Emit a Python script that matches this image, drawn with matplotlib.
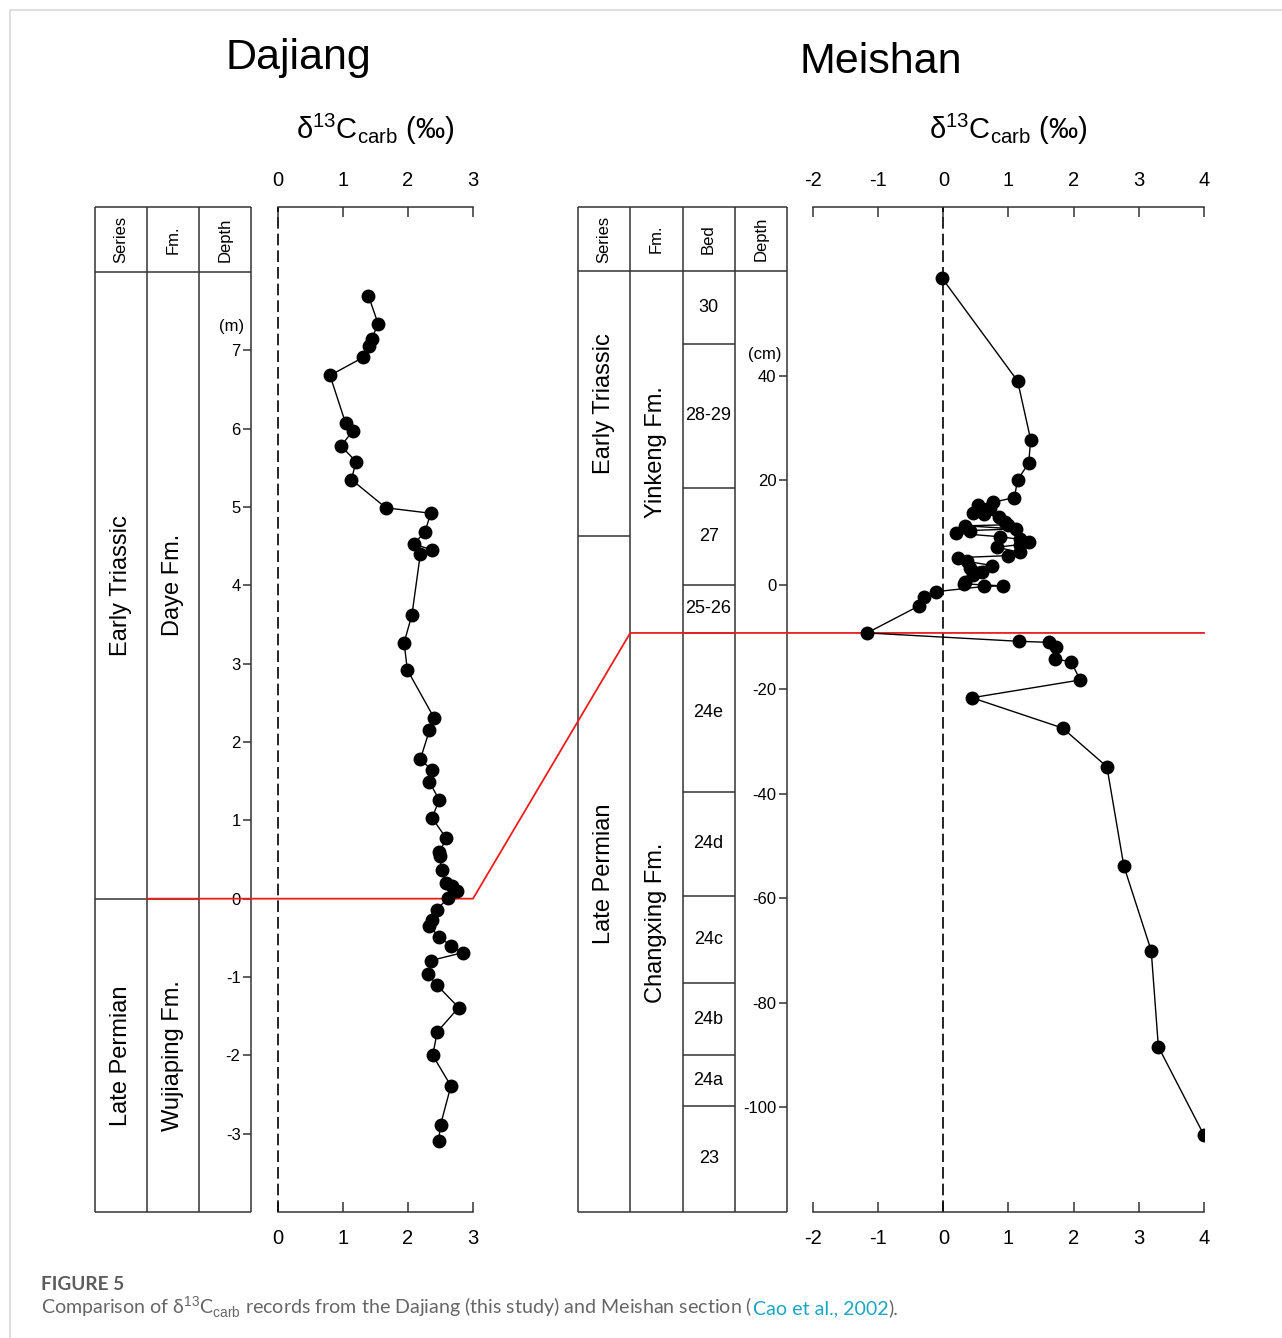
import matplotlib
matplotlib.use("Agg")
import matplotlib.pyplot as plt
from matplotlib.lines import Line2D

plt.rcParams['font.family'] = ['Liberation Sans', 'DejaVu Sans']
plt.rcParams['mathtext.fontset'] = 'custom'
plt.rcParams['mathtext.rm'] = 'Liberation Sans'
plt.rcParams['mathtext.it'] = 'Liberation Sans:italic'
plt.rcParams['axes.unicode_minus'] = False

# --- Dajiang section (depth in m, d13C in permil) ---
dajiang_depth = [7.70, 7.34, 7.14, 7.06, 6.91, 6.68, 6.07, 5.97, 5.78, 5.58, 5.35,
                 4.99, 4.92, 4.68, 4.53, 4.45, 4.40, 3.62, 3.27, 2.92, 2.31, 2.15,
                 1.78, 1.64, 1.49, 1.26, 1.03, 0.77, 0.59, 0.54, 0.36, 0.20, 0.16,
                 0.10, 0.01, -0.14, -0.27, -0.35, -0.49, -0.60, -0.69, -0.79, -0.96,
                 -1.10, -1.39, -1.70, -2.00, -2.39, -2.89, -3.09]
dajiang_d13c = [1.39, 1.54, 1.44, 1.40, 1.31, 0.80, 1.04, 1.15, 0.97, 1.20, 1.13,
                1.66, 2.35, 2.26, 2.09, 2.37, 2.19, 2.06, 1.94, 1.99, 2.40, 2.33,
                2.19, 2.37, 2.33, 2.48, 2.37, 2.59, 2.48, 2.49, 2.52, 2.58, 2.68,
                2.75, 2.62, 2.44, 2.37, 2.33, 2.48, 2.66, 2.84, 2.35, 2.31,
                2.44, 2.78, 2.45, 2.38, 2.66, 2.50, 2.47]
dajiang_series = ['Early Triassic', 'Late Permian']
dajiang_fm = ['Daye Fm.', 'Wujiaping Fm.']
dajiang_ticks = [-3, -2, -1, 0, 1, 2, 3, 4, 5, 6, 7]
dajiang_ptb = 0.0

# --- Meishan section (depth in cm) ---
meishan_depth = [58.7, 39.0, 27.8, 23.3, 20.1, 16.7, 15.8, 15.3, 14.7, 13.7, 13.6,
                 13.0, 12.1, 11.5, 11.3, 10.7, 10.4, 9.9, 9.2, 8.7, 8.2, 7.7, 7.2,
                 6.2, 5.6, 5.2, 4.5, 3.7, 3.2, 2.5, 1.9, 0.6, 0.2, -0.2, -0.3, -1.3,
                 -2.4, -4.0, -9.2, -10.8, -11.0, -11.8, -14.2, -14.7, -18.2, -21.6,
                 -27.4, -34.8, -53.8, -70.0, -88.4, -105.3]
meishan_d13c = [-0.02, 1.14, 1.34, 1.31, 1.14, 1.09, 0.76, 0.53, 0.72, 0.46, 0.62,
                0.86, 0.95, 1.00, 0.34, 1.12, 0.41, 0.19, 0.87, 1.18, 1.31, 1.17, 0.82,
                1.18, 1.00, 0.22, 0.36, 0.75, 0.41, 0.59, 0.46, 0.34, 0.31, 0.91, 0.63, -0.11,
                -0.30, -0.37, -1.17, 1.16, 1.62, 1.73, 1.71, 1.96, 2.10, 0.44,
                1.83, 2.51, 2.77, 3.19, 3.30, 4.00]
meishan_series = ['Early Triassic', 'Late Permian']
meishan_series_bound = 9.4
meishan_fm = ['Yinkeng Fm.', 'Changxing Fm.']
meishan_beds = ['30', '28-29', '27', '25-26', '24e', '24d', '24c', '24b', '24a', '23']
meishan_bed_bounds = [60, 46.1, 18.6, 0, -9.2, -39.6, -59.5, -76.2, -90.0, -99.7, -120]
meishan_ticks = [-100, -80, -60, -40, -20, 0, 20, 40]
meishan_ptb = -9.2

W, H = 1282, 1338
fig = plt.figure(figsize=(W / 100, H / 100), dpi=100)


def box(x0, y0, x1, y1):
    return [x0 / W, 1 - y1 / H, (x1 - x0) / W, (y1 - y0) / H]


LC = '#333333'
LW = 1.1
label = 'δ$^{13}$C$_{\\mathrm{carb}}$ (‰)'


def make_plot(x0, x1, xlim, ylim, depth, vals):
    ax = fig.add_axes(box(x0, 207, x1, 1212))
    ax.set_zorder(2)
    ax.patch.set_visible(False)
    ax.plot(vals, depth, '-o', color='black', lw=1.0, ms=9)
    ax.axvline(0, color='black', lw=1.2, dashes=(7, 3), clip_on=False)
    ax.set_xlim(*xlim)
    ax.set_ylim(*ylim)
    ax.set_xticks(range(xlim[0], xlim[1] + 1))
    ax.set_yticks([])
    for s in ['left', 'right']:
        ax.spines[s].set_visible(False)
    for s in ['top', 'bottom']:
        ax.spines[s].set_linewidth(LW)
        ax.spines[s].set_color(LC)
    ax.tick_params(axis='x', top=True, bottom=True, labeltop=True, labelbottom=True,
                   direction='in', length=7, width=LW, color=LC, pad=12, labelsize=14.5)
    ax.annotate(label, xy=(0.5, 1), xycoords='axes fraction', xytext=(0, 56),
                textcoords='offset points', ha='center', va='center', fontsize=21)
    return ax


def make_depth(x, ylim, ticks, unit, unit_y, unit_dx):
    ax = fig.add_axes(box(x, 207, x + 0.01, 1212))
    ax.patch.set_visible(False)
    for s in ax.spines.values():
        s.set_visible(False)
    ax.set_ylim(*ylim)
    ax.set_xticks([])
    ax.set_yticks(ticks)
    ax.tick_params(axis='y', direction='out', length=6, width=LW, color=LC,
                   pad=1.5, labelsize=12)
    ax.annotate(unit, xy=(0, unit_y), xycoords=('axes fraction', 'data'),
                xytext=(-unit_dx, 0), textcoords='offset points',
                ha='center', va='center', fontsize=12)
    return ax


def vtext(ax, x, y, s, size):
    ax.text(x, y, s, rotation=90, ha='center', va='center', fontsize=size)


# ---------------- Dajiang ----------------
d_ylim = (-4, 8.83)
tD = fig.add_axes(box(95, 207, 251, 1212))
tD.axis('off')
tD.set_xlim(0, 3)
tD.set_ylim(*d_ylim)
tD.vlines([0, 1, 2, 3], d_ylim[0], d_ylim[1], color=LC, lw=LW, clip_on=False)
tD.hlines([d_ylim[0], 8.0, d_ylim[1]], 0, 3, color=LC, lw=LW, clip_on=False)
tD.hlines(dajiang_ptb, 0, 2, color=LC, lw=LW, clip_on=False)
hy = (8.0 + d_ylim[1]) / 2
for i, h in enumerate(['Series', 'Fm.', 'Depth']):
    vtext(tD, i + 0.5, hy, h, 12)
vtext(tD, 0.5, (8.0 + dajiang_ptb) / 2, dajiang_series[0], 17)
vtext(tD, 0.5, (dajiang_ptb + d_ylim[0]) / 2, dajiang_series[1], 17)
vtext(tD, 1.5, (8.0 + dajiang_ptb) / 2, dajiang_fm[0], 17)
vtext(tD, 1.5, (dajiang_ptb + d_ylim[0]) / 2, dajiang_fm[1], 17)

make_depth(251, d_ylim, dajiang_ticks, '(m)', 7.3, 14)
pD = make_plot(278, 473, (0, 3), d_ylim, dajiang_depth, dajiang_d13c)

# ---------------- Meishan ----------------
m_ylim = (-120, 72.3)
tM = fig.add_axes(box(578, 207, 787, 1212))
tM.axis('off')
tM.set_xlim(0, 4)
tM.set_ylim(*m_ylim)
tM.vlines([0, 1, 2, 3, 4], m_ylim[0], m_ylim[1], color=LC, lw=LW, clip_on=False)
tM.hlines([m_ylim[0], 60, m_ylim[1]], 0, 4, color=LC, lw=LW, clip_on=False)
tM.hlines(meishan_series_bound, 0, 1, color=LC, lw=LW)
tM.hlines(meishan_bed_bounds[1:-1], 2, 3, color=LC, lw=LW)
hy = (60 + m_ylim[1]) / 2
for i, h in enumerate(['Series', 'Fm.', 'Bed', 'Depth']):
    vtext(tM, i + 0.5, hy, h, 12)
vtext(tM, 0.5, (60 + meishan_series_bound) / 2, meishan_series[0], 17)
vtext(tM, 0.5, (meishan_series_bound + m_ylim[0]) / 2, meishan_series[1], 17)
vtext(tM, 1.5, (60 + meishan_ptb) / 2, meishan_fm[0], 17)
vtext(tM, 1.5, (meishan_ptb + m_ylim[0]) / 2, meishan_fm[1], 17)
for name, top, bot in zip(meishan_beds, meishan_bed_bounds[:-1], meishan_bed_bounds[1:]):
    tM.text(2.5, (top + bot) / 2, name, ha='center', va='center', fontsize=13)

make_depth(787, m_ylim, meishan_ticks, '(cm)', 44.0, 16)
pM = make_plot(813, 1204, (-2, 4), m_ylim, meishan_depth, meishan_d13c)

# ---------------- correlation line ----------------
inv = fig.transFigure.inverted()
pts = [tD.transData.transform((1, dajiang_ptb)),
       pD.transData.transform((3, dajiang_ptb)),
       tM.transData.transform((1, meishan_ptb)),
       pM.transData.transform((4, meishan_ptb))]
pts = inv.transform(pts)
fig.add_artist(Line2D(pts[:, 0], pts[:, 1], color='#ee1c1c', lw=1.3,
                      transform=fig.transFigure, zorder=1))

# ---------------- titles ----------------
fig.text(298 / W, 1 - 58 / H, 'Dajiang', ha='center', va='center', fontsize=31)
fig.text(881 / W, 1 - 62 / H, 'Meishan', ha='center', va='center', fontsize=31)

# ---------------- page frame and caption ----------------
fig.add_artist(Line2D([10 / W, 10 / W, 1], [0, 1 - 10 / H, 1 - 10 / H],
                      color='#d8d8d8', lw=1.2, transform=fig.transFigure))
cap_font = ['Lato', 'DejaVu Sans']
fig.text(41 / W, 1 - 1290 / H, 'FIGURE 5', fontsize=13.7, fontweight='bold',
         color='#5c5c5c', family=cap_font, va='baseline')
renderer = fig.canvas.get_renderer()
x = 41
parts = [('Comparison of δ$^{13}$C$_{\\mathrm{carb}}$ records from the Dajiang (this study) '
          'and Meishan section (', '#666666'),
         ('Cao et al., 2002', '#1aa6c4'),
         (').', '#666666')]
for s, c in parts:
    t = fig.text(x / W, 1 - 1314 / H, s, fontsize=14.1, color=c, family=cap_font,
                 va='baseline')
    bb = t.get_window_extent(renderer)
    x = bb.x1

fig.savefig('out.png', dpi=100)
